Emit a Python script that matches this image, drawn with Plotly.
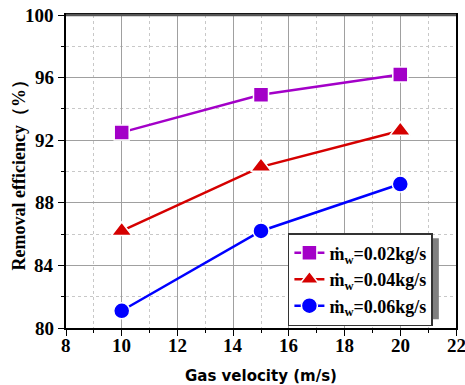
import plotly.graph_objects as go

gas_velocity = [10, 15, 20]
eff_002 = [92.5, 94.9, 96.2]
eff_004 = [86.2, 90.3, 92.6]
eff_006 = [81.1, 86.2, 89.2]
labels = ["<b>ṁ<sub>w</sub>=0.02kg/s</b>", "<b>ṁ<sub>w</sub>=0.04kg/s</b>", "<b>ṁ<sub>w</sub>=0.06kg/s</b>"]
x_ticks = [8, 10, 12, 14, 16, 18, 20, 22]
y_ticks = [80, 84, 88, 92, 96, 100]
x_title = "<b>Gas velocity (m/s)</b>"
y_title = "<b>Removal efficiency（%）</b>"
colors = ["#a300c8", "#d50000", "#0000ff"]
symbols = ["square", "triangle-up", "circle"]
sizes = [15, 18, 16]

fig = go.Figure()
for ys, lab, c, s, sz in zip([eff_002, eff_004, eff_006], labels, colors, symbols, sizes):
    fig.add_trace(go.Scatter(
        x=gas_velocity, y=ys, name=lab, mode="lines+markers",
        line=dict(color=c, width=2.5),
        marker=dict(symbol=s, size=sz, color=c, line=dict(color="white", width=1.5)),
    ))

serif = "Liberation Serif"
lab_font = dict(family=serif, size=19, color="black", weight="bold")

xaxis = dict(
    range=[8, 22], dtick=2, showticklabels=False, automargin=False,
    showline=True, linecolor="black", linewidth=1.5, mirror=True,
    ticks="outside", ticklen=6, tickwidth=1.2, tickcolor="black",
    showgrid=True, gridcolor="#a0a0a0", gridwidth=1, zeroline=False,
    minor=dict(dtick=1, ticks="outside", ticklen=3, showgrid=True,
               gridcolor="#c8c8c8", griddash="dot", gridwidth=1),
)
yaxis = dict(
    range=[80, 100], dtick=4, showticklabels=False, automargin=False,
    showline=True, linecolor="black", linewidth=1.5, mirror=True,
    ticks="outside", ticklen=6, tickwidth=1.2, tickcolor="black",
    showgrid=True, gridcolor="#a0a0a0", gridwidth=1, zeroline=False,
    minor=dict(dtick=2, ticks="outside", ticklen=3, showgrid=True,
               gridcolor="#c8c8c8", griddash="dot", gridwidth=1),
)

# tick labels placed on the axis scales
for v in x_ticks:
    fig.add_annotation(x=v, xref="x", y=0, yref="paper", text="<b>%d</b>" % v,
                       showarrow=False, xanchor="center", yanchor="middle",
                       yshift=-17, font=lab_font)
for v in y_ticks:
    fig.add_annotation(x=0, xref="paper", y=v, yref="y", text="<b>%d</b>" % v,
                       showarrow=False, xanchor="right", yanchor="middle",
                       xshift=-10, font=lab_font)

# axis titles
fig.add_annotation(x=0.5, xref="paper", y=-0.1545, yref="paper", text=x_title,
                   showarrow=False, xanchor="center", yanchor="middle",
                   font=dict(family="DejaVu Sans", size=15, color="black"))
fig.add_annotation(x=-0.123, xref="paper", y=0.5, yref="paper", text=y_title,
                   showarrow=False, xanchor="center", yanchor="middle", textangle=-90,
                   font=dict(family=serif, size=18, color="black"))

# dark grey top frame
fig.add_shape(type="line", xref="paper", yref="paper", x0=0, x1=1, y0=1, y1=1,
              line=dict(color="#555555", width=2.5), layer="above")

# legend drop shadow
fig.add_shape(type="rect", xref="paper", yref="paper",
              x0=0.582, x1=0.956, y0=0.028, y1=0.287,
              fillcolor="#808080", line=dict(width=0), layer="above")

fig.update_layout(
    width=465, height=385,
    margin=dict(l=66, r=9, t=15, b=57),
    plot_bgcolor="white", paper_bgcolor="white",
    xaxis=xaxis, yaxis=yaxis,
    legend=dict(x=0.569, y=0.303, xanchor="left", yanchor="top",
                bgcolor="white", bordercolor="#333333", borderwidth=1.5,
                font=dict(family=serif, size=18, color="black"),
                itemwidth=30, tracegroupgap=0),
    showlegend=True,
)
fig.write_html("out.html")
